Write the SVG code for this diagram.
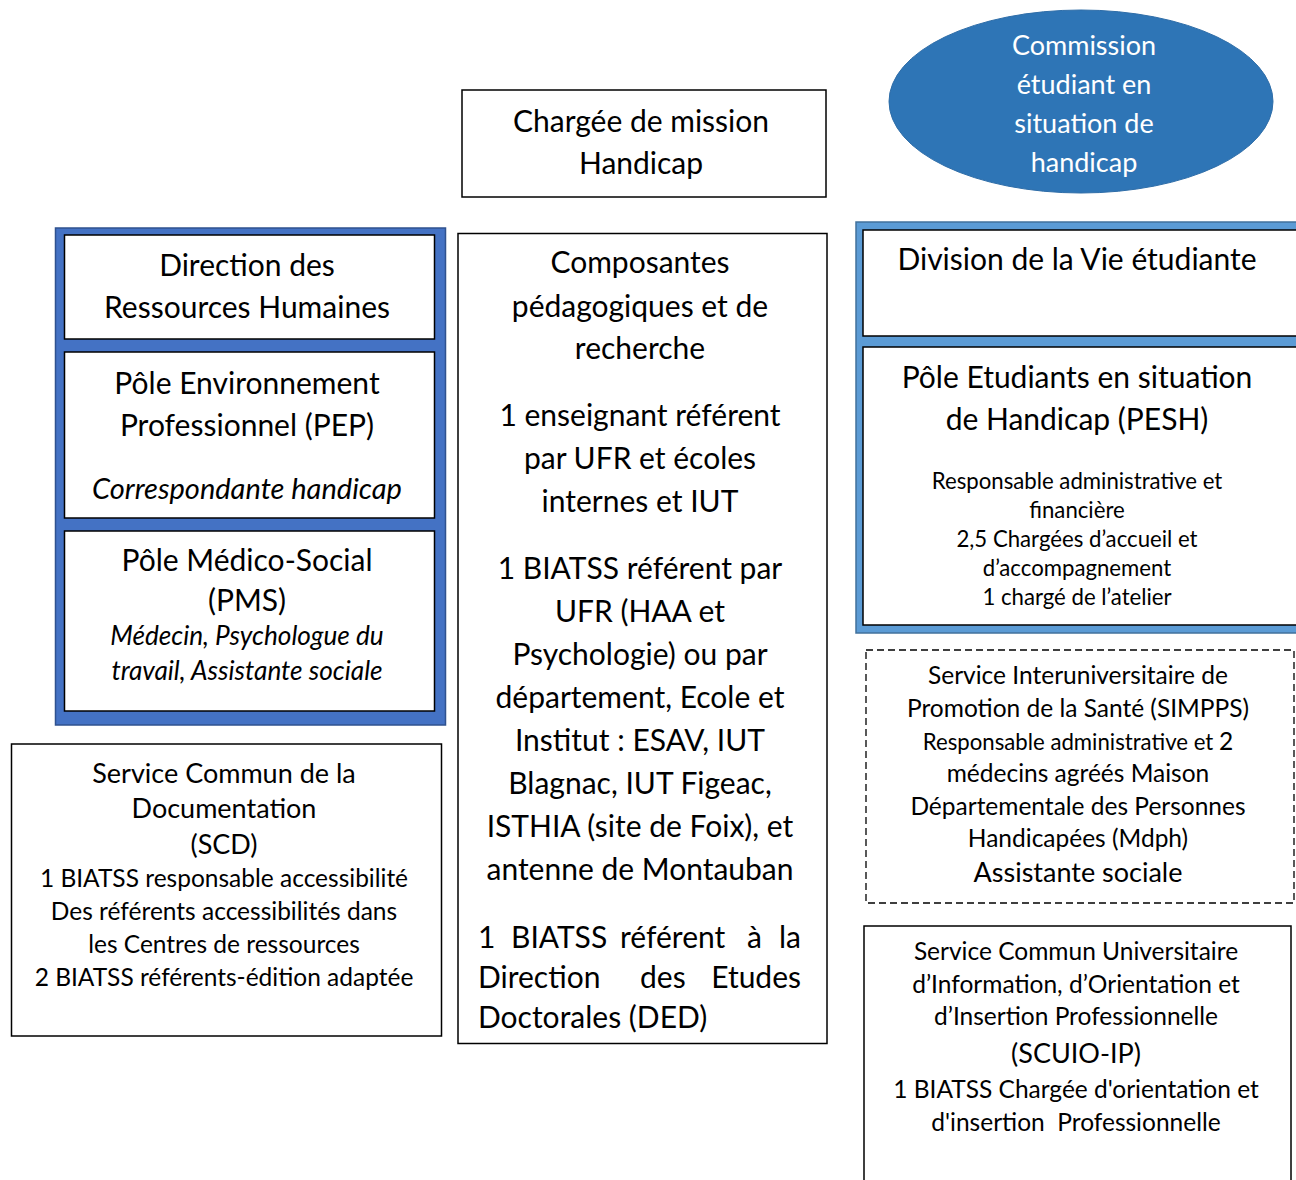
<svg xmlns="http://www.w3.org/2000/svg" width="1296" height="1180" viewBox="0 0 1296 1180">
<style>
text{font-family:Lato,"Open Sans","Liberation Sans",sans-serif;fill:#000;text-anchor:middle}
.box{fill:#fff;stroke:#000;stroke-width:1.5}
.m{font-size:30px}
.t27{font-size:27px}
.s24{font-size:24.5px}
.s22{font-size:22.2px}
.it{font-style:italic}
.w{fill:#fff}
.l{text-anchor:start}
.e{text-anchor:end}
.pre{white-space:pre}
</style>
<rect width="1296" height="1180" fill="#fff"/>
<g id="commission">
<ellipse cx="1081" cy="101.5" rx="192" ry="91.5" fill="#2E75B6" stroke="#2E6DA8" stroke-width="1"/>
<text class="t27 w" x="1084" y="55">Commission</text>
<text class="t27 w" x="1084" y="94">étudiant en</text>
<text class="t27 w" x="1084" y="133">situation de</text>
<text class="t27 w" x="1084" y="172">handicap</text>
</g>
<g id="chargee">
<rect class="box" x="462" y="90" width="364" height="107"/>
<text class="m" x="641" y="132">Chargée de mission</text>
<text class="m" x="641" y="174">Handicap</text>
</g>
<g id="left-frame">
<rect x="55.5" y="228" width="390" height="497" fill="#4472C4" stroke="#2F528F" stroke-width="1.5"/>
<g id="drh">
<rect class="box" x="64.5" y="235" width="370" height="104"/>
<text class="m" x="247" y="276">Direction des</text>
<text class="m" x="247" y="318">Ressources Humaines</text>
</g>
<g id="pep">
<rect class="box" x="64.5" y="352" width="370" height="166"/>
<text class="m" x="247" y="394">Pôle Environnement</text>
<text class="m" x="247" y="436">Professionnel (PEP)</text>
<text class="it" style="font-size:29px" x="247" y="499">Correspondante handicap</text>
</g>
<g id="pms">
<rect class="box" x="64.5" y="531" width="370" height="180"/>
<text class="m" x="247" y="571">Pôle Médico-Social</text>
<text class="m" x="247" y="611">(PMS)</text>
<text class="it" style="font-size:26.2px" x="247" y="645">Médecin, Psychologue du</text>
<text class="it" style="font-size:26.2px" x="247" y="680">travail, Assistante sociale</text>
</g>
</g>
<g id="scd">
<rect class="box" x="11.5" y="744" width="430" height="292"/>
<text class="t27" x="224" y="783">Service Commun de la</text>
<text class="t27" x="224" y="818">Documentation</text>
<text class="t27" x="224" y="854">(SCD)</text>
<text class="s24" x="224" y="887">1 BIATSS responsable accessibilité</text>
<text class="s24" x="224" y="920">Des référents accessibilités dans</text>
<text class="s24" x="224" y="953">les Centres de ressources</text>
<text class="s24" x="224" y="986">2 BIATSS référents-édition adaptée</text>
</g>
<g id="composantes">
<rect class="box" x="458" y="233.5" width="369" height="810"/>
<text class="m" x="640" y="273">Composantes</text>
<text class="m" x="640" y="317">pédagogiques et de</text>
<text class="m" x="640" y="359">recherche</text>
<text class="m" x="640" y="426">1 enseignant référent</text>
<text class="m" x="640" y="469">par UFR et écoles</text>
<text class="m" x="640" y="512">internes et IUT</text>
<text class="m" x="640" y="579">1 BIATSS référent par</text>
<text class="m" x="640" y="622">UFR (HAA et</text>
<text class="m" x="640" y="665">Psychologie) ou par</text>
<text class="m" x="640" y="708">département, Ecole et</text>
<text class="m" x="640" y="751">Institut : ESAV, IUT</text>
<text class="m" x="640" y="794">Blagnac, IUT Figeac,</text>
<text class="m" x="640" y="837">ISTHIA (site de Foix), et</text>
<text class="m" x="640" y="880">antenne de Montauban</text>
<text class="m l" x="478" y="948">1</text>
<text class="m l" x="511" y="948">BIATSS</text>
<text class="m l" x="620" y="948">référent</text>
<text class="m l" x="747" y="948">à</text>
<text class="m e" x="801" y="948">la</text>
<text class="m l" x="478" y="988">Direction</text>
<text class="m l" x="640" y="988">des</text>
<text class="m e" x="801" y="988">Etudes</text>
<text class="m l" x="478" y="1028">Doctorales (DED)</text>
</g>
<g id="right-frame">
<rect x="856" y="222" width="446" height="411" fill="#5B9BD5" stroke="#41719C" stroke-width="1.5"/>
<g id="dve">
<rect class="box" x="863" y="230" width="440" height="106"/>
<text class="m" x="1077" y="270">Division de la Vie étudiante</text>
</g>
<g id="pesh">
<rect class="box" x="863" y="347" width="440" height="278"/>
<text class="m" x="1077" y="388">Pôle Etudiants en situation</text>
<text class="m" x="1077" y="430">de Handicap (PESH)</text>
<text class="s22" x="1077" y="489">Responsable administrative et</text>
<text class="s22" x="1077" y="518">financière</text>
<text class="s22" x="1077" y="547">2,5 Chargées d’accueil et</text>
<text class="s22" x="1077" y="576">d’accompagnement</text>
<text class="s22" x="1077" y="605">1 chargé de l’atelier</text>
</g>
</g>
<g id="simpps">
<rect x="866" y="650" width="428" height="253" fill="#fff" stroke="#000" stroke-width="1.3" stroke-dasharray="7 4"/>
<text class="s24" x="1078" y="684">Service Interuniversitaire de</text>
<text class="s24" x="1078" y="717">Promotion de la Santé (SIMPPS)</text>
<text class="s22" x="1078" y="750">Responsable administrative et <tspan style="font-size:24.5px">2</tspan></text>
<text class="s24" x="1078" y="782">médecins agréés Maison</text>
<text class="s24" x="1078" y="815">Départementale des Personnes</text>
<text class="s24" x="1078" y="847">Handicapées (Mdph)</text>
<text class="t27" x="1078" y="882">Assistante sociale</text>
</g>
<g id="scuio">
<rect class="box" x="864" y="926" width="427" height="270"/>
<text class="s24" x="1076" y="960">Service Commun Universitaire</text>
<text class="s24" x="1076" y="993">d’Information, d’Orientation et</text>
<text class="s24" x="1076" y="1025">d’Insertion Professionnelle</text>
<text class="t27" x="1076" y="1063">(SCUIO-IP)</text>
<text class="s24" x="1076" y="1098">1 BIATSS Chargée d'orientation et</text>
<text class="s24 pre" x="1076" y="1131">d'insertion  Professionnelle</text>
</g>
<g id="connectors"></g>
</svg>
